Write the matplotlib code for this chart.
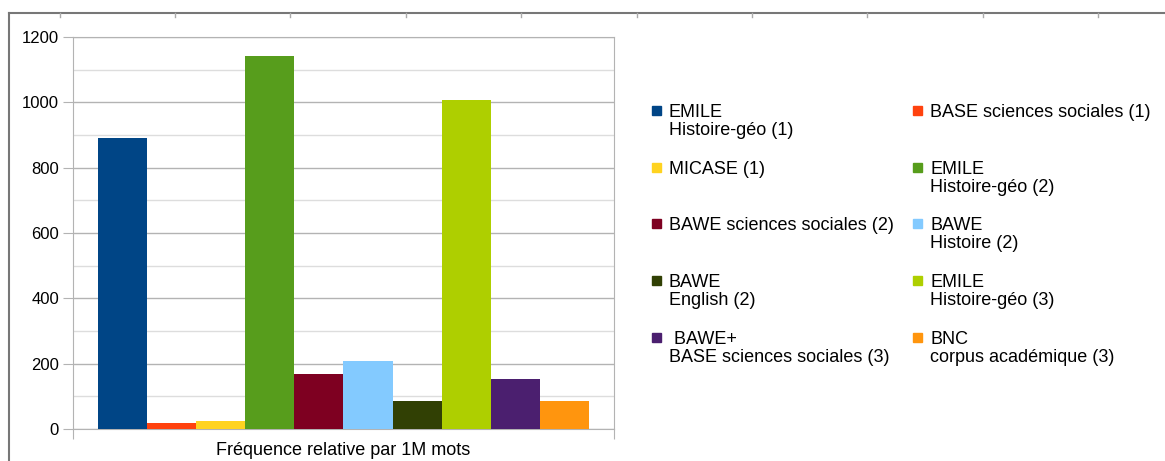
import matplotlib
matplotlib.use("Agg")
import matplotlib.pyplot as plt
from matplotlib.patches import Rectangle
from matplotlib.lines import Line2D
import numpy as np

plt.rcParams["font.family"] = ["Liberation Sans", "DejaVu Sans"]

# data
labels = [
    "EMILE\nHistoire-géo (1)",
    "BASE sciences sociales (1)",
    "MICASE (1)",
    "EMILE\nHistoire-géo (2)",
    "BAWE sciences sociales (2)",
    "BAWE\nHistoire (2)",
    "BAWE\nEnglish (2)",
    "EMILE\nHistoire-géo (3)",
    " BAWE+\nBASE sciences sociales (3)",
    "BNC\ncorpus académique (3)",
]
values = [890, 18, 25, 1143, 167, 208, 85, 1008, 152, 85]
colors = ["#004586", "#ff420e", "#ffd320", "#579d1c", "#7e0021",
          "#83caff", "#314004", "#aecf00", "#4b1f6f", "#ff950e"]
yticks = [0, 200, 400, 600, 800, 1000, 1200]
xlabel = "Fréquence relative par 1M mots"

W, H = 1165, 461
fig = plt.figure(figsize=(W / 100, H / 100), dpi=100)


def fx(px):
    return px / W


def fy(py):
    return 1 - py / H


ax = fig.add_axes([fx(73), fy(429), fx(614) - fx(73), fy(37) - fy(429)])
x = np.arange(len(values))
ax.bar(x, values, width=1.0, color=colors, zorder=3)
ax.set_xlim(-1.0, len(values))
ax.set_ylim(0, 1200)

ax.set_yticks(yticks)
ax.set_yticks(np.arange(100, 1200, 200), minor=True)
ax.tick_params(axis="y", which="major", direction="out", length=7,
               color="#b3b3b3", labelsize=12, pad=3)
ax.tick_params(axis="y", which="minor", length=0)
ax.grid(axis="y", which="major", color="#b3b3b3", lw=1, zorder=0)
ax.grid(axis="y", which="minor", color="#dddddd", lw=1, zorder=0)
ax.set_xticks([-1.0, len(values)])
ax.set_xticklabels(["", ""])
ax.tick_params(axis="x", direction="out", length=7, color="#b3b3b3")
for s in ax.spines.values():
    s.set_color("#b3b3b3")
ax.text(0.5, -0.032, xlabel, transform=ax.transAxes, ha="center", va="top",
        fontsize=13)

# legend: two columns, placed like the original
col_x = [652, 913]
row_y = [111, 168, 224, 281, 338]
for i, (lab, c) in enumerate(zip(labels, colors)):
    cx = col_x[i % 2]
    ry = row_y[i // 2]
    fig.patches.append(Rectangle((fx(cx), fy(ry + 4)), fx(9), fy(0) - fy(9),
                                 transform=fig.transFigure, color=c))
    fig.text(fx(cx + 17), fy(ry - 7), lab, ha="left", va="top",
             fontsize=13, linespacing=1.05)

# outer page frame with ruler ticks
fig.add_artist(Line2D([fx(9), 1], [fy(13), fy(13)], color="#777777", lw=1.5))
fig.add_artist(Line2D([fx(9), fx(9)], [fy(13), 0], color="#777777", lw=1.5))
for tx in [60, 175, 290, 406, 521, 637, 752, 867, 983, 1098]:
    fig.add_artist(Line2D([fx(tx), fx(tx)], [fy(13), fy(17)],
                          color="#aaaaaa", lw=1))

fig.savefig("out.png", dpi=100)
